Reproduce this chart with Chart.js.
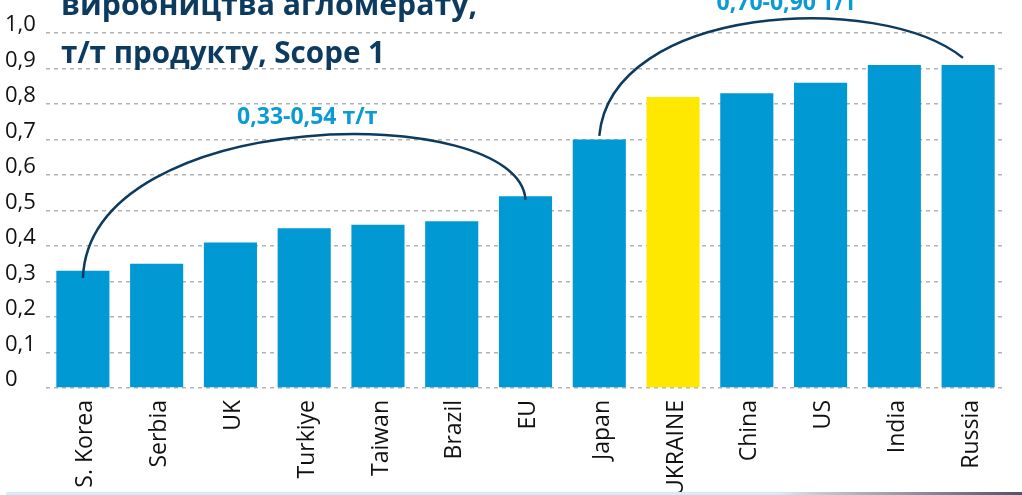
<!DOCTYPE html>
<html>
<head>
<meta charset="utf-8">
<script src="https://cdn.jsdelivr.net/npm/chart.js@4.4.1/dist/chart.umd.min.js"></script>
<style>
  html, body { margin: 0; padding: 0; background: #fff; overflow: hidden; }
  #wrap { position: relative; width: 1022px; height: 495px; }
</style>
</head>
<body>
<div id="wrap"><canvas id="grafico"></canvas></div>
<script>
// дані з графіка
const countries = ['S. Korea', 'Serbia', 'UK', 'Turkiye', 'Taiwan', 'Brazil', 'EU',
                   'Japan', 'UKRAINE', 'China', 'US', 'India', 'Russia'];
const intensity = [0.33, 0.35, 0.41, 0.45, 0.46, 0.47, 0.54, 0.70, 0.82, 0.83, 0.86, 0.91, 0.91];
const highlight = 'UKRAINE';
const yTicks = [0, 0.1, 0.2, 0.3, 0.4, 0.5, 0.6, 0.7, 0.8, 0.9, 1.0];
const titleLines = ['виробництва агломерату,', 'т/т продукту, Scope 1'];
const ranges = [
    { label: '0,33-0,54 т/т', from: 'S. Korea', to: 'EU' },
    { label: '0,70-0,90 т/т', from: 'Japan', to: 'Russia' }
];

const BLUE = '#0099d4';
const YELLOW = '#ffe800';
const NAVY = '#0d3b5f';

function fitText(ctx, text, x, y, width) {
    const w = ctx.measureText(text).width;
    ctx.save();
    ctx.translate(x, y);
    ctx.scale(width / w, 1);
    ctx.fillText(text, 0, 0);
    ctx.restore();
}

const extras = {
    id: 'extras',
    afterDraw(chart) {
        const ctx = chart.ctx;
        const xs = chart.scales.x, ys = chart.scales.y;
        const X = i => xs.getPixelForValue(i);
        const Y = v => ys.getPixelForValue(v);

        // заголовок
        ctx.save();
        ctx.fillStyle = NAVY;
        ctx.textBaseline = 'alphabetic';
        ctx.font = "bold 30px 'Open Sans', sans-serif";
        fitText(ctx, titleLines[0], 61, 15, 416);
        fitText(ctx, titleLines[1], 61, 63, 324);
        ctx.restore();

        // дуги
        const a = countries.indexOf(ranges[0].from), b = countries.indexOf(ranges[0].to);
        const c = countries.indexOf(ranges[1].from), d = countries.indexOf(ranges[1].to);
        ctx.save();
        ctx.strokeStyle = NAVY;
        ctx.lineWidth = 2.5;
        ctx.beginPath();
        ctx.moveTo(X(a), Y(intensity[a] - 0.02));
        ctx.bezierCurveTo(X(a + 0.1), Y(0.80), X(b - 0.08), Y(0.81), X(b), Y(intensity[b] - 0.01));
        ctx.stroke();
        ctx.beginPath();
        ctx.moveTo(X(c), Y(intensity[c] + 0.01));
        ctx.bezierCurveTo(X(c + 0.16), Y(1.08), X(d - 1.2), Y(1.12), X(d - 0.07), Y(intensity[d] + 0.02));
        ctx.stroke();

        // підписи діапазонів
        ctx.fillStyle = '#0a9ad5';
        ctx.font = "bold 23px 'Open Sans', sans-serif";
        ctx.textAlign = 'center';
        ctx.textBaseline = 'alphabetic';
        ctx.fillText(ranges[0].label, (X(a) + X(b)) / 2 + 3, Y(0.745));
        ctx.fillText(ranges[1].label, (X(c) + X(d)) / 2 + 3, Y(1.065));
        ctx.restore();

        // смуга внизу
        ctx.save();
        const g = ctx.createLinearGradient(6, 0, 1022, 0);
        g.addColorStop(0, '#d3ecf8');
        g.addColorStop(0.76, '#d3ecf8');
        g.addColorStop(0.8, '#c5c8d2');
        g.addColorStop(1, '#55516a');
        ctx.fillStyle = g;
        ctx.fillRect(6, 492, 1016, 3);
        ctx.restore();
    }
};

const ctx = document.getElementById('grafico').getContext('2d');
const chart = new Chart(ctx, {
    type: 'bar',
    data: {
        labels: countries,
        datasets: [{
            data: intensity,
            backgroundColor: countries.map(c => c === highlight ? YELLOW : BLUE),
            borderWidth: 0,
            categoryPercentage: 1,
            barPercentage: 0.72
        }]
    },
    options: {
        responsive: true,
        maintainAspectRatio: false,
        animation: false,
        layout: { padding: { top: 33, left: 5, right: 17, bottom: 0 } },
        scales: {
            x: {
                grid: { display: false, drawTicks: false },
                border: { display: false },
                ticks: {
                    autoSkip: false,
                    minRotation: 90,
                    maxRotation: 90,
                    padding: 12,
                    labelOffset: 3,
                    color: '#111',
                    font: { family: "'Open Sans', sans-serif", size: 23 }
                },
                afterFit: s => { s.height = 107; }
            },
            y: {
                min: 0,
                max: 1.0,
                afterBuildTicks: s => { s.ticks = yTicks.map(v => ({ value: v })); },
                grid: { color: '#b3b3b3', lineWidth: 1.5, drawTicks: false },
                border: { display: false, dash: [4, 4] },
                ticks: {
                    crossAlign: 'far',
                    padding: 0,
                    labelOffset: -8,
                    color: '#111',
                    font: { family: "'Liberation Sans Narrow', 'Open Sans', sans-serif", size: 22 },
                    callback: v => v === 0 ? '0' : (Math.round(v * 10) / 10).toFixed(1).replace('.', ',')
                },
                afterFit: s => { s.width = 41; }
            }
        },
        plugins: {
            legend: { display: false },
            tooltip: { enabled: false }
        }
    },
    plugins: [extras]
});
</script>
</body>
</html>
